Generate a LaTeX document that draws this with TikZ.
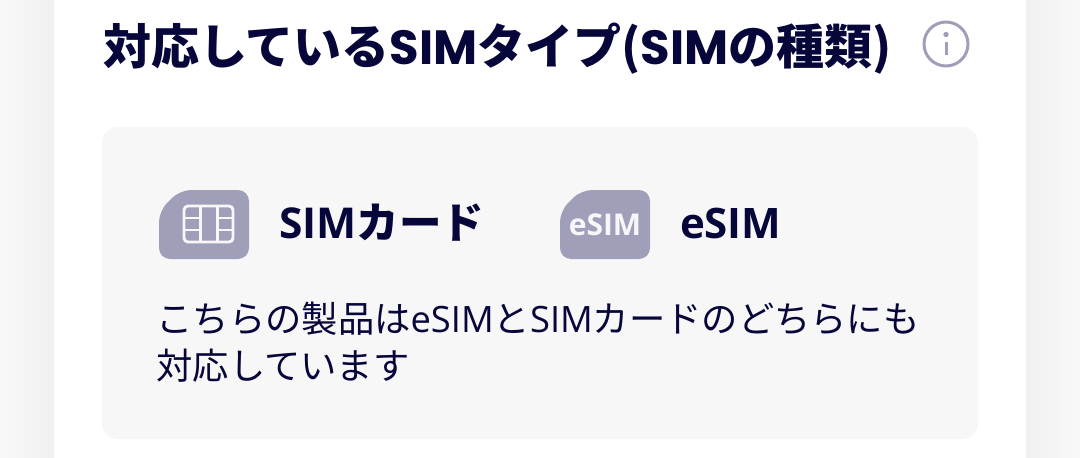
\documentclass[tikz,border=0pt]{standalone}
\usepackage{fontspec}
\setmainfont{Noto Sans CJK JP}
\newfontfamily\titlelat{Poppins}
\newfontfamily\cjkr{Noto Sans CJK JP}
\newfontfamily\latr{Open Sans}
\definecolor{ink}{HTML}{06063A}
\definecolor{chip}{HTML}{A09FB9}
\definecolor{panel}{HTML}{F7F7F8}
\definecolor{sideout}{HTML}{F9F9F9}
\definecolor{sidein}{HTML}{F0F0F1}
\tikzset{
  label text/.style={anchor=base west,inner sep=0pt,outer sep=0pt,text=ink},
  sim shape/.style={fill=chip,draw=none},
  chip line/.style={draw=white!92!chip,line width=2.9pt,line join=round}
}
\begin{document}
\begin{tikzpicture}[x=1pt,y=-1pt]
\useasboundingbox (0,0) rectangle (1080,458);
\fill[white] (0,0) rectangle (1080,458);
\shade[left color=sideout,right color=sidein] (0,0) rectangle (54,458);
\shade[left color=sidein,right color=sideout] (1026,0) rectangle (1080,458);
\fill[panel,rounded corners=16pt] (102,127) rectangle (978,439);
% title
\node[label text] (title) at (103,64) {\fontsize{48pt}{52pt}\bfseries\cjkr 対応している\titlelat\bfseries SIM\cjkr\bfseries タイプ(\titlelat\bfseries SIM\cjkr\bfseries の種類)};
% info icon
\draw[chip,line width=3pt] (946,44) circle (22pt);
\fill[chip] (946,34.5) circle (2.7pt);
\draw[chip,line width=3pt] (946,42) -- (946,55);
% SIM card icon
\fill[sim shape,rounded corners=11pt] (159,259) -- (159,211) -- (180,190) -- (249,190) -- (249,259) -- cycle;
\draw[chip line,rounded corners=4pt] (184,206) rectangle (233,242);
\draw[chip line] (200.5,206) -- (200.5,242) (217.5,206) -- (217.5,242)
  (184,218) -- (200.5,218) (184,230) -- (200.5,230) (217.5,218) -- (233,218) (217.5,230) -- (233,230);
\node[label text] (simlabel) at (279,238) {\fontsize{42.5pt}{46pt}\latr\bfseries SIM\cjkr\bfseries カード};
% eSIM icon
\fill[sim shape,rounded corners=11pt] (560,259) -- (560,211) -- (581,190) -- (650,190) -- (650,259) -- cycle;
\node[anchor=base,inner sep=0pt,text=white!92!chip] (esimchip) at (605,235) {\fontsize{30pt}{32pt}\latr\bfseries eSIM};
\node[label text] (esimlabel) at (680,238) {\fontsize{42pt}{46pt}\latr\bfseries eSIM};
% body
\node[label text] (line1) at (156.5,332) {\fontsize{36.3pt}{40pt}\cjkr こちらの製品は\latr eSIM\cjkr と\latr SIM\cjkr カードのどちらにも};
\node[label text] (line2) at (156.5,379) {\fontsize{36.3pt}{40pt}\cjkr 対応しています};
\end{tikzpicture}
\end{document}
